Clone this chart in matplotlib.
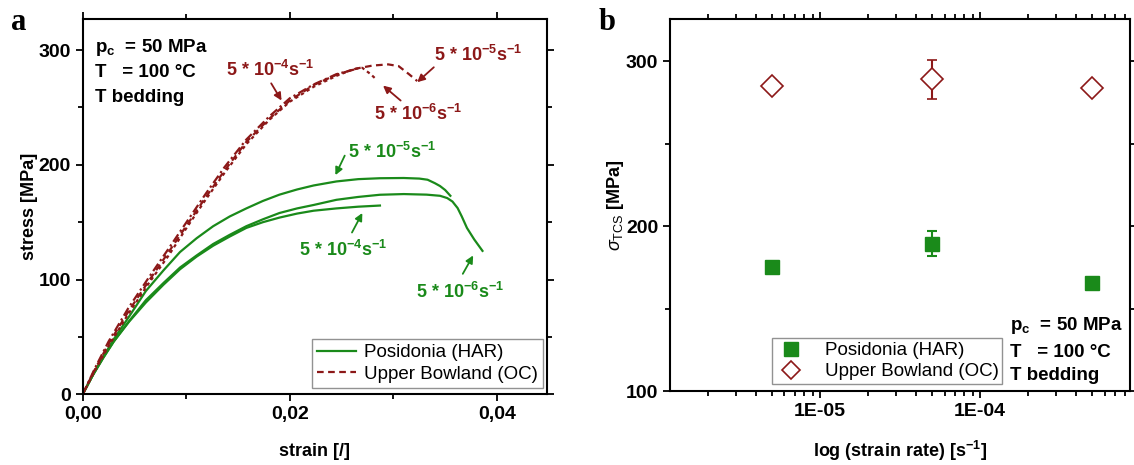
import numpy as np
import matplotlib
matplotlib.use('Agg')
import matplotlib.pyplot as plt
from matplotlib.lines import Line2D
from matplotlib.ticker import FixedLocator, FuncFormatter, LogLocator, NullFormatter, MultipleLocator

plt.rcParams['font.family'] = ['Liberation Sans', 'DejaVu Sans']
plt.rcParams['mathtext.fontset'] = 'custom'
plt.rcParams['mathtext.rm'] = 'Liberation Sans'
plt.rcParams['mathtext.it'] = 'Liberation Sans:italic'
plt.rcParams['mathtext.bf'] = 'Liberation Sans:bold'

GREEN = '#1a8a1a'
RED = '#8c1818'

# --- panel a: stress-strain curves ---
pos_5e5_strain = [0, 0.001, 0.002, 0.003, 0.0045, 0.0061, 0.0078, 0.0094, 0.011, 0.0126, 0.0142,
                  0.0158, 0.0174, 0.019, 0.0207, 0.0223, 0.0245, 0.0266, 0.0287, 0.031, 0.0325,
                  0.0333, 0.034, 0.0345, 0.035, 0.0355]
pos_5e5_stress = [0, 17, 33, 48, 68, 90, 108, 124, 136, 146.5, 155,
                  162, 168.5, 174, 178.5, 182, 185.5, 187.5, 188.3, 188.5, 188,
                  187, 184, 181.5, 178, 173]

pos_5e6_strain = [0, 0.001, 0.002, 0.003, 0.0045, 0.0061, 0.0078, 0.0094, 0.011, 0.0126, 0.0142,
                  0.0158, 0.0174, 0.019, 0.0207, 0.0223, 0.0245, 0.0266, 0.0287, 0.031, 0.0332,
                  0.0345, 0.0352, 0.0357, 0.0362, 0.0366, 0.0371, 0.0378, 0.0386]
pos_5e6_stress = [0, 17, 32, 46, 64, 82, 97, 110.5, 121, 131, 139,
                  146.5, 152.5, 158, 162, 165, 169.5, 172, 173.9, 174.5, 174,
                  173, 171, 168, 162.3, 155, 145, 135, 125]

pos_5e4_strain = [0, 0.001, 0.002, 0.003, 0.0045, 0.0061, 0.0078, 0.0094, 0.011, 0.0126, 0.0142,
                  0.0158, 0.0174, 0.019, 0.0207, 0.0223, 0.0245, 0.0266, 0.0287]
pos_5e4_stress = [0, 17, 32, 46, 63.5, 80, 95.5, 109, 120, 129.5, 137.5,
                  145, 150, 154, 157.5, 160, 162, 163.5, 164.5]

ub_5e5_strain = [0, 0.0012, 0.0025, 0.0044, 0.0064, 0.0083, 0.0101, 0.0119, 0.0137, 0.0158,
                 0.018, 0.02, 0.0223, 0.0245, 0.0265, 0.028, 0.0295, 0.0305, 0.0315, 0.0323]
ub_5e5_stress = [0, 22, 44, 72, 99, 124, 148, 172, 195, 220,
                 240, 256, 269.5, 278.5, 284, 286.5, 287.5, 286, 279, 273]

ub_5e6_strain = [0, 0.0012, 0.0025, 0.0044, 0.0064, 0.0083, 0.0101, 0.0119, 0.0137, 0.0158,
                 0.018, 0.02, 0.0223, 0.0245, 0.0262, 0.027, 0.0278, 0.0284]
ub_5e6_stress = [0, 21, 42, 70, 97, 121, 146, 170, 193, 218,
                 239, 255, 268, 277.5, 283.5, 284.5, 279, 274]

ub_5e4_strain = [0, 0.0012, 0.0025, 0.0044, 0.0064, 0.0083, 0.0101, 0.0119, 0.0137, 0.0158,
                 0.018, 0.02, 0.0223, 0.0245, 0.0262]
ub_5e4_stress = [0, 23, 46, 75, 102, 127, 151, 175, 198, 222,
                 242, 258, 270, 279, 283]

# --- panel b: peak strength vs strain rate ---
rates = [5e-6, 5e-5, 5e-4]
pos_tcs = [175.2, 189.3, 165.3]
pos_err = [0, 7.6, 0]
ub_tcs = [284.8, 288.9, 283.6]
ub_err = [0, 11.6, 0]

fig = plt.figure(figsize=(11.34, 4.65), dpi=100)
ax1 = fig.add_axes([0.0729, 0.152, 0.4092, 0.807])
ax2 = fig.add_axes([0.5908, 0.159, 0.4057, 0.800])

lw = 1.6
ax1.plot(pos_5e5_strain, pos_5e5_stress, color=GREEN, lw=lw, label='Posidonia (HAR)')
ax1.plot(pos_5e6_strain, pos_5e6_stress, color=GREEN, lw=lw)
ax1.plot(pos_5e4_strain, pos_5e4_stress, color=GREEN, lw=lw)
ax1.plot(ub_5e5_strain, ub_5e5_stress, color=RED, lw=lw, ls=(0, (3, 2)), label='Upper Bowland (OC)')
ax1.plot(ub_5e6_strain, ub_5e6_stress, color=RED, lw=lw, ls=(0, (1.5, 1.5)))
ax1.plot(ub_5e4_strain, ub_5e4_stress, color=RED, lw=lw, ls=(0, (4, 1.5, 1, 1.5)))

ax1.set_xlim(0, 0.0448)
ax1.set_ylim(0, 327)
ax1.xaxis.set_major_locator(FixedLocator([0, 0.02, 0.04]))
ax1.xaxis.set_minor_locator(FixedLocator([0.01, 0.03]))
ax1.xaxis.set_major_formatter(FuncFormatter(lambda v, p: f'{v:.2f}'.replace('.', ',')))
ax1.yaxis.set_major_locator(MultipleLocator(100))
ax1.yaxis.set_minor_locator(MultipleLocator(50))
ax1.set_xlabel('strain [/]', fontsize=13, fontweight='bold', labelpad=14)
ax1.set_ylabel('stress [MPa]', fontsize=13, fontweight='bold', labelpad=0)

lab = dict(fontsize=13, fontweight='bold', ha='center', va='center')
ax1.text(0.0181, 283, r'5 * 10$^{\mathbf{-4}}$s$^{\mathbf{-1}}$', color=RED, **lab)
ax1.text(0.0382, 296, r'5 * 10$^{\mathbf{-5}}$s$^{\mathbf{-1}}$', color=RED, **lab)
ax1.text(0.0324, 244, r'5 * 10$^{\mathbf{-6}}$s$^{\mathbf{-1}}$', color=RED, **lab)
ax1.text(0.0299, 211, r'5 * 10$^{\mathbf{-5}}$s$^{\mathbf{-1}}$', color=GREEN, **lab)
ax1.text(0.0251, 126, r'5 * 10$^{\mathbf{-4}}$s$^{\mathbf{-1}}$', color=GREEN, **lab)
ax1.text(0.0364, 89, r'5 * 10$^{\mathbf{-6}}$s$^{\mathbf{-1}}$', color=GREEN, **lab)

arrows = [((0.0182, 271), (0.0192, 256), RED),
          ((0.0339, 285), (0.0323, 272), RED),
          ((0.0307, 256), (0.0290, 269), RED),
          ((0.0253, 208), (0.0244, 191), GREEN),
          ((0.0260, 141), (0.0270, 158), GREEN),
          ((0.0367, 105), (0.0377, 121), GREEN)]
for tail, head, c in arrows:
    ax1.annotate('', xy=head, xytext=tail,
                 arrowprops=dict(arrowstyle='-|>', color=c, lw=1.3, mutation_scale=11, shrinkA=0, shrinkB=0))

info = dict(fontsize=13.5, fontweight='bold', transform=ax1.transAxes, va='center')
ax1.text(0.027, 0.925, r'p$_{\mathbf{c}}$  = 50 MPa', **info)
ax1.text(0.027, 0.857, 'T   = 100 °C', **info)
ax1.text(0.027, 0.790, 'T bedding', **info)

leg1 = ax1.legend(loc='lower right', bbox_to_anchor=(0.991, 0.018), fontsize=13.5, frameon=True,
                  fancybox=False, edgecolor='#777777', borderaxespad=0, handlelength=2.1,
                  borderpad=0.25, labelspacing=0.25, handletextpad=0.4)
leg1.get_frame().set_linewidth(1.0)

# panel b
ax2.errorbar(rates, pos_tcs, yerr=pos_err, fmt='s', color=GREEN, ms=10, capsize=3.5,
             elinewidth=1.5, capthick=1.5)
ax2.errorbar(rates, ub_tcs, yerr=ub_err, fmt='D', mfc='white', mec=RED, color=RED, ms=11,
             mew=1.2, capsize=3.5, elinewidth=1.5, capthick=1.5)
ax2.set_xscale('log')
ax2.set_xlim(1.155e-6, 8.66e-4)
ax2.set_ylim(100, 325.5)
ax2.xaxis.set_major_locator(FixedLocator([1e-5, 1e-4]))
ax2.xaxis.set_major_formatter(FuncFormatter(lambda v, p: '1E-05' if v < 5e-5 else '1E-04'))
ax2.xaxis.set_minor_locator(LogLocator(base=10, subs=np.arange(2, 10), numticks=20))
ax2.xaxis.set_minor_formatter(NullFormatter())
ax2.yaxis.set_major_locator(MultipleLocator(100))
ax2.yaxis.set_minor_locator(MultipleLocator(50))
ax2.set_xlabel(r'log (strain rate) [s$^{\mathbf{-1}}$]', fontsize=13, fontweight='bold', labelpad=14)
ax2.set_ylabel(r'$\sigma_{\mathrm{TCS}}$ [MPa]', fontsize=13, fontweight='bold', labelpad=0)

info2 = dict(fontsize=13.5, fontweight='bold', transform=ax2.transAxes, va='center')
ax2.text(0.74, 0.177, r'p$_{\mathbf{c}}$  = 50 MPa', **info2)
ax2.text(0.74, 0.105, 'T   = 100 °C', **info2)
ax2.text(0.74, 0.043, 'T bedding', **info2)

handles2 = [Line2D([], [], ls='none', marker='s', color=GREEN, ms=10),
            Line2D([], [], ls='none', marker='D', mfc='white', mec=RED, ms=9, mew=1.2)]
leg2 = ax2.legend(handles2, ['Posidonia (HAR)', 'Upper Bowland (OC)'], loc='lower left',
                  bbox_to_anchor=(0.222, 0.019), fontsize=13.5, frameon=True,
                  fancybox=False, edgecolor='#777777', borderaxespad=0, handlelength=1.6,
                  borderpad=0.2, labelspacing=0.2, handletextpad=1.0)
leg2.get_frame().set_linewidth(1.0)

for ax in (ax1, ax2):
    for s in ax.spines.values():
        s.set_linewidth(1.5)
    ax.tick_params(which='both', direction='out', top=True, right=True, width=1.3)
    ax.tick_params(which='major', length=5, labelsize=14)
    ax.tick_params(which='minor', length=3.5)
    for t in ax.get_xticklabels() + ax.get_yticklabels():
        t.set_fontweight('bold')

fig.text(0.010, 0.935, 'a', fontsize=22, fontweight='bold', family='Liberation Serif')
fig.text(0.528, 0.935, 'b', fontsize=22, fontweight='bold', family='Liberation Serif')

fig.savefig('out.png', dpi=100)
